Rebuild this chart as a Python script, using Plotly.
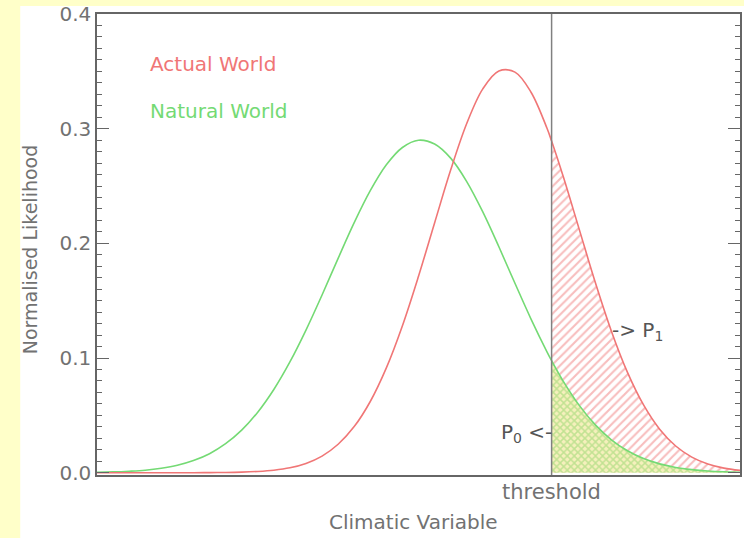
import plotly.graph_objects as go

# ---- data ----
x_vals = [0.0, 0.25, 0.5, 0.75, 1.0, 1.25, 1.5, 1.75, 2.0, 2.25, 2.5, 2.75,
          3.0, 3.25, 3.5, 3.75, 4.0, 4.25, 4.5, 4.75, 5.0, 5.25, 5.5, 5.75,
          6.0, 6.25, 6.5, 6.75, 7.0, 7.07, 7.25, 7.5, 7.75, 8.0, 8.25, 8.5,
          8.75, 9.0, 9.25, 9.5, 9.75, 10.0]

natural_world = [0.0004, 0.0007, 0.0013, 0.0022, 0.0039, 0.0065, 0.0106, 0.0166,
                 0.0253, 0.0371, 0.0528, 0.0726, 0.0966, 0.1244, 0.1550, 0.1869,
                 0.2180, 0.2459, 0.2685, 0.2836, 0.2899, 0.2866, 0.2743, 0.2539,
                 0.2274, 0.1970, 0.1652, 0.1340, 0.1052, 0.0977, 0.0799, 0.0587,
                 0.0417, 0.0287, 0.0191, 0.0123, 0.0077, 0.0046, 0.0027, 0.0015,
                 0.0008, 0.0004]

actual_world = [0.0, 0.0, 0.0, 0.0, 0.0, 0.0, 0.0, 0.0001,
                0.0002, 0.0005, 0.0011, 0.0022, 0.0043, 0.0081, 0.0145, 0.0248,
                0.0402, 0.0621, 0.0914, 0.1282, 0.1713, 0.2178, 0.2639, 0.3045,
                0.3347, 0.3503, 0.3493, 0.3318, 0.3001, 0.2892, 0.2585, 0.2122,
                0.1658, 0.1234, 0.0875, 0.0591, 0.0380, 0.0233, 0.0136, 0.0076,
                0.0040, 0.0020]

threshold = 7.07
y_tick_vals = [0.0, 0.1, 0.2, 0.3, 0.4]
y_tick_text = ["0.0", "0.1", "0.2", "0.3", "0.4"]

RED = "#F07676"
GREEN = "#74DA74"
AXIS = "#666666"
TEXT = "#727272"
FONT = "DejaVu Sans"

# tail (beyond threshold) subsets
tail_idx = [i for i, xv in enumerate(x_vals) if xv >= threshold]
tail_x = [x_vals[i] for i in tail_idx]
tail_red = [actual_world[i] for i in tail_idx]
tail_green = [natural_world[i] for i in tail_idx]

fig = go.Figure()

fig.add_trace(go.Scatter(
    x=tail_x, y=tail_red, mode="lines", line=dict(width=0, shape="spline"),
    fill="tozeroy", fillcolor="rgba(255,255,255,0)",
    fillpattern=dict(shape="/", fgcolor="#F07C7C", bgcolor="rgba(255,255,255,0)",
                     size=6, solidity=0.35),
    hoverinfo="skip", showlegend=False))

fig.add_trace(go.Scatter(
    x=tail_x, y=tail_green, mode="lines", line=dict(width=0, shape="spline"),
    fill="tozeroy", fillcolor="#F6F0BC",
    fillpattern=dict(shape="x", fgcolor="#8CD468", bgcolor="#F6F0BC",
                     size=5, solidity=0.5),
    hoverinfo="skip", showlegend=False))

fig.add_trace(go.Scatter(
    x=x_vals, y=natural_world, mode="lines", name="Natural World",
    line=dict(color=GREEN, width=1.6, shape="spline"), showlegend=False))

fig.add_trace(go.Scatter(
    x=x_vals, y=actual_world, mode="lines", name="Actual World",
    line=dict(color=RED, width=1.6, shape="spline"), showlegend=False))

# white page area over yellow paper
fig.add_shape(type="rect", xref="paper", yref="paper",
              x0=-0.1194, x1=1.02, y0=-0.2, y1=1.0173,
              fillcolor="white", line=dict(width=0), layer="below")

# threshold line
fig.add_shape(type="line", xref="x", yref="paper", x0=threshold, x1=threshold,
              y0=0, y1=1, line=dict(color="#808080", width=1.5))

annotations = [
    dict(text="Actual World", x=0.79, y=0.3566, xref="x", yref="y",
         xanchor="left", yanchor="middle", showarrow=False,
         font=dict(family=FONT, size=20, color=RED)),
    dict(text="Natural World", x=0.79, y=0.3155, xref="x", yref="y",
         xanchor="left", yanchor="middle", showarrow=False,
         font=dict(family=FONT, size=20, color=GREEN)),
    dict(text="-> P<sub>1</sub>", x=7.98, y=0.124, xref="x", yref="y",
         xanchor="left", yanchor="middle", showarrow=False,
         font=dict(family=FONT, size=20, color="#555555")),
    dict(text="P<sub>0</sub> <-", x=threshold + 0.03, y=0.0346, xref="x", yref="y",
         xanchor="right", yanchor="middle", showarrow=False,
         font=dict(family=FONT, size=20, color="#555555")),
    dict(text="threshold", x=threshold, y=-0.0368, xref="x", yref="paper",
         xanchor="center", yanchor="middle", showarrow=False,
         font=dict(family=FONT, size=21, color=TEXT)),
    dict(text="Climatic Variable", x=0.493, y=-0.1017, xref="paper", yref="paper",
         xanchor="center", yanchor="middle", showarrow=False,
         font=dict(family=FONT, size=20, color=TEXT)),
    dict(text="Normalised Likelihood", x=-0.104, y=0.49, xref="paper", yref="paper",
         xanchor="center", yanchor="middle", showarrow=False, textangle=-90,
         font=dict(family=FONT, size=19, color=TEXT)),
]

fig.update_layout(
    width=744, height=538,
    margin=dict(l=97, r=2, t=13, b=63),
    paper_bgcolor="#FFFFC9",
    plot_bgcolor="white",
    showlegend=False,
    annotations=annotations,
    xaxis=dict(range=[0, 10], showline=True, linecolor=AXIS, linewidth=1.5,
               mirror=True, showticklabels=False, ticks="", showgrid=False,
               zeroline=False, fixedrange=True),
    yaxis=dict(range=[-0.002, 0.4], showline=True, linecolor=AXIS, linewidth=1.5,
               mirror="allticks", tickvals=y_tick_vals, ticktext=y_tick_text,
               ticks="inside", ticklen=12, tickwidth=1.2, tickcolor=AXIS,
               minor=dict(ticks="inside", ticklen=5, tickwidth=1.2, tickcolor=AXIS,
                          dtick=0.01, tick0=0, showgrid=False),
               tickfont=dict(family=FONT, size=20, color=TEXT),
               showgrid=False, zeroline=False, fixedrange=True),
)

fig.write_html("out.html",
               config={"displayModeBar": False},
               post_script="document.body.style.margin='0';document.body.style.padding='0';")
